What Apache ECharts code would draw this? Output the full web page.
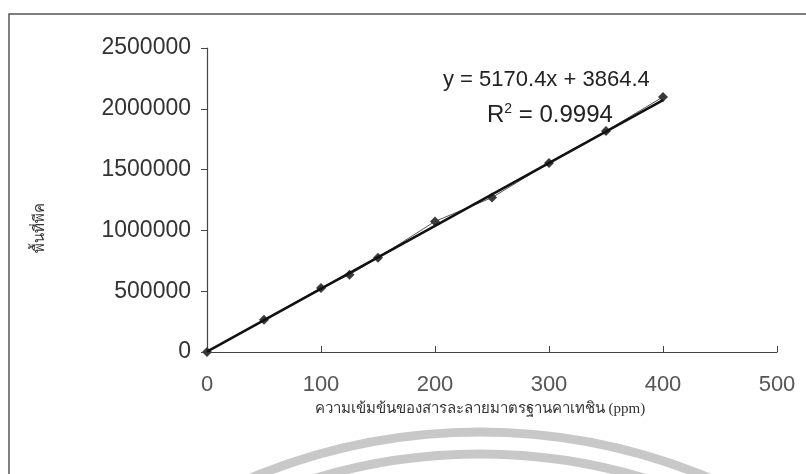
<!DOCTYPE html>
<html>
<head>
<meta charset="utf-8">
<script src="https://cdn.jsdelivr.net/npm/echarts@6/dist/echarts.min.js"></script>
<style>html,body{margin:0;padding:0;background:#fff}#c{width:806px;height:474px}</style>
</head>
<body>
<div id="c"></div>
<script>
// Data
const concentration = [0, 50, 100, 125, 150, 200, 250, 300, 350, 400];
const peakArea = [0, 265000, 527000, 636000, 776000, 1074000, 1270000, 1555000, 1817000, 2098000];
const trendX = [0, 400];
const trendY = [3864.4, 2072024.4];
const xTicks = [0, 100, 200, 300, 400, 500];
const yTicks = [0, 500000, 1000000, 1500000, 2000000, 2500000];
const equationText = 'y = 5170.4x + 3864.4';
const r2Text = '0.9994';
const xTitle = 'ความเข้มข้นของสารละลายมาตรฐานคาเทชิน (ppm)';
const yTitle = 'พื้นที่พีค';

const chart = echarts.init(document.getElementById('c'), null, {renderer: 'canvas'});
const pts = concentration.map((x, i) => [x, peakArea[i]]);
const trend = trendX.map((x, i) => [x, trendY[i]]);
const FF = 'Liberation Sans, Arial, sans-serif';

chart.setOption({
  animation: false,
  backgroundColor: '#fff',
  grid: {left: 207, right: 29, top: 48, bottom: 122, containLabel: false},
  xAxis: {
    type: 'value', min: xTicks[0], max: xTicks[xTicks.length - 1], interval: 100,
    axisLine: {show: true, lineStyle: {color: '#444', width: 1.2}},
    axisTick: {show: true, inside: true, length: 6, lineStyle: {color: '#444'}},
    axisLabel: {margin: 22, fontFamily: FF, fontSize: 22, color: '#555'},
    splitLine: {show: false}
  },
  yAxis: {
    type: 'value', min: yTicks[0], max: yTicks[yTicks.length - 1], interval: 500000,
    axisLine: {show: true, lineStyle: {color: '#444', width: 1.2}},
    axisTick: {show: true, inside: false, length: 6, lineStyle: {color: '#444'}},
    axisLabel: {margin: 16, fontFamily: FF, fontSize: 23, color: '#333', formatter: v => String(v)},
    splitLine: {show: false}
  },
  series: [
    {
      type: 'line', data: pts, symbol: 'diamond', symbolSize: 10,
      itemStyle: {color: '#3a3a3a'},
      lineStyle: {color: '#555', width: 1}, z: 3
    },
    {
      type: 'line', data: trend, symbol: 'none',
      lineStyle: {color: '#111', width: 2.6}, z: 4
    }
  ],
  graphic: [
    {type: 'circle', silent: true, z: -10, shape: {cx: 480, cy: 1026, r: 594},
     style: {fill: 'none', stroke: '#c8c8c8', lineWidth: 9}},
    {type: 'circle', silent: true, z: -10, shape: {cx: 480, cy: 1026, r: 572},
     style: {fill: 'none', stroke: '#c8c8c8', lineWidth: 9}},
    {type: 'polyline', silent: true, z: 10, shape: {points: [[9, 474], [9, 14], [806, 14]]},
     style: {fill: 'none', stroke: '#555', lineWidth: 1.5}},
    {type: 'text', z: 20, x: 480, y: 409,
     style: {text: xTitle, font: '15px Liberation Serif, serif', fill: '#333', align: 'center', verticalAlign: 'middle'}},
    {type: 'text', z: 20, x: 40, y: 228, rotation: Math.PI / 2,
     style: {text: yTitle, font: '15px Liberation Serif, serif', fill: '#333', align: 'center', verticalAlign: 'middle'}},
    {type: 'text', z: 20, left: 443, top: 69,
     style: {text: equationText, font: '22px ' + FF, fill: '#222'}},
    {type: 'text', z: 20, left: 487, top: 102,
     style: {text: 'R{s|2} = ' + r2Text, font: '24px ' + FF, fill: '#222',
       rich: {s: {fontSize: 14, verticalAlign: 'top', padding: [0, 0, 12, 0], fontFamily: FF, fill: '#222'}}}}
  ]
});
</script>
</body>
</html>
